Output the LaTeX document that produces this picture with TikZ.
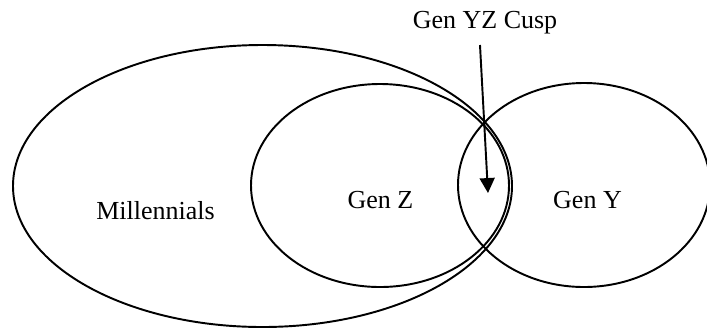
\documentclass[tikz,border=0pt]{standalone}
\usepackage{fontspec}
\setmainfont{Liberation Serif}
\usetikzlibrary{arrows.meta}

\begin{document}
\begin{tikzpicture}[scale=0.2]
                \tikzstyle{every node}+=[inner sep=0pt, font=\fontsize{14.8}{17}\selectfont]
                \useasboundingbox (0,0) rectangle (70.7,-32.9);
                \draw [black, line width=1.1pt] (26.25,-18.6) ellipse (24.95 and 14.1);
                \draw [black, line width=1.1pt] (38.0,-18.55) ellipse (12.9 and 10.15);
                \draw [black, line width=1.1pt] (58.4,-18.5) ellipse (12.6 and 10.2);
                \node [anchor=base] (millennials) at (15.55,-21.9) {Millennials};
                \node [anchor=base] (genz) at (38.05,-20.8) {Gen Z};
                \node [anchor=base] (geny) at (58.75,-20.8) {Gen Y};
                \node [anchor=base] (cusplabel) at (48.5,-2.8) {Gen YZ Cusp};
                \coordinate (cusptop) at (48.0,-4.5);
                \coordinate (cusp) at (48.8,-19.3);
                \draw [black, line width=1.1pt, -{Triangle[length=8.5pt,width=8.5pt]}] (cusptop) -- (cusp);
            \end{tikzpicture}
\end{document}
